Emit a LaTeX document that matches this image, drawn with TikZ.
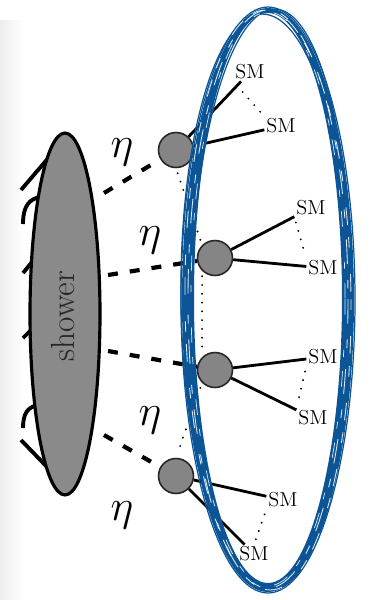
\documentclass[tikz,border=0pt]{standalone}
\usepackage{fontspec}
\usepackage{xcolor}
\usepackage{tikz}
\usetikzlibrary{shapes.geometric}
\definecolor{ShowerGray}{HTML}{8A8A8A}
\definecolor{BlobGray}{HTML}{858585}
\definecolor{ScribbleBlue}{HTML}{0B5596}

\begin{document}
\begin{tikzpicture}[x=0.02cm,y=-0.02cm,
  showerblob/.style={ellipse,draw=black,line width=1.8pt,fill=ShowerGray,minimum width=1.4cm,minimum height=7.24cm,inner sep=0pt},
  blob/.style={circle,draw=black!85,line width=0.9pt,fill=BlobGray,minimum size=0.7cm,inner sep=0pt},
  smlabel/.style={inner sep=1pt,font=\fontsize{11.5}{12}\selectfont},
  etalabel/.style={inner sep=0pt,font=\fontsize{24.88}{26}\selectfont},
  etaline/.style={line width=2.4pt,dash pattern=on 0.2cm off 0.24cm},
  smline/.style={line width=1.6pt},
  dotline/.style={line width=1.2pt,dash pattern=on 0pt off 5pt,line cap=round,shorten <=3pt,shorten >=3pt},
  stub/.style={line width=2.2pt},
  scribble/.style={draw=ScribbleBlue,line width=0.7pt},
  streak/.style={draw=white,line width=0.5pt,opacity=0.85}]
\path[use as bounding box] (0,0) rectangle (382,600);
\shade[left color=black!7,right color=white] (0,20) rectangle (24,600);
% incoming lines behind the shower
\draw[stub] (21,190) -- (50,156);
\draw[stub] (23,224) .. controls (23,205) and (30,199) .. (40,197);
\draw[stub] (23,273) -- (32,262);
\draw[stub] (23,338) -- (32,329);
\draw[stub] (23,428) .. controls (23,413) and (28,407) .. (38,405);
\draw[stub] (21,440) -- (50,470);
\node[showerblob] (shower) at (65,314) {};
\node[rotate=90,font=\fontsize{19}{20}\selectfont,text=black!85] (showerlabel) at (63,316) {shower};
% decays
\node[blob] (b1) at (176,150) {};
\node[blob] (b2) at (215,258) {};
\node[blob] (b3) at (215,370) {};
\node[blob] (b4) at (176,476) {};
\coordinate (e1) at (104,193);
\coordinate (e2) at (108,275);
\coordinate (e3) at (108,351);
\coordinate (e4) at (104,435);
\draw[etaline] (e1) -- (b1);
\draw[etaline] (e2) -- (b2);
\draw[etaline] (e3) -- (b3);
\draw[etaline] (e4) -- (b4);
\node[etalabel] (eta1) at (122,152) {$\eta$};
\node[etalabel] (eta2) at (150,240) {$\eta$};
\node[etalabel] (eta3) at (150,420) {$\eta$};
\node[etalabel] (eta4) at (122,515) {$\eta$};
\node[smlabel] (sm1a) at (250,72) {SM};
\node[smlabel] (sm1b) at (281,126) {SM};
\node[smlabel] (sm2a) at (311,208) {SM};
\node[smlabel] (sm2b) at (323,268) {SM};
\node[smlabel] (sm3a) at (323,357) {SM};
\node[smlabel] (sm3b) at (313,418) {SM};
\node[smlabel] (sm4a) at (283,500) {SM};
\node[smlabel] (sm4b) at (254,554) {SM};
\draw[smline] (b1) -- (sm1a);
\draw[smline] (b1) -- (sm1b);
\draw[smline] (b2) -- (sm2a);
\draw[smline] (b2) -- (sm2b);
\draw[smline] (b3) -- (sm3a);
\draw[smline] (b3) -- (sm3b);
\draw[smline] (b4) -- (sm4a);
\draw[smline] (b4) -- (sm4b);
\draw[dotline] (sm1a.south west) -- (sm1b.north west);
\draw[dotline] (sm2a.south west) -- (sm2b.north west);
\draw[dotline] (sm3a.south west) -- (sm3b.north west);
\draw[dotline] (sm4a.south west) -- (sm4b.north);
\draw[dotline] (b1.south) -- (b2.north west);
\draw[dotline] (b2.south west) -- (b3.north west);
\draw[dotline] (b3.south west) -- (b4.north);
% hand drawn ring
\fill[ScribbleBlue,even odd rule] (268,300) ellipse [x radius=86,y radius=292]
  (268,298) ellipse [x radius=74,y radius=285];
\draw[scribble] (268,300) ellipse [x radius=87,y radius=293];
\draw[scribble,rotate around={-1:(270,298)}] (270,298) ellipse [x radius=79,y radius=289];
\draw[scribble,rotate around={0.8:(266,302)}] (266,302) ellipse [x radius=85,y radius=288];
\draw[streak,dash pattern=on 14pt off 9pt on 5pt off 12pt] (268,299) ellipse [x radius=80,y radius=289];
\draw[streak,dash pattern=on 6pt off 15pt on 10pt off 7pt,rotate around={0.5:(268,300)}] (268,300) ellipse [x radius=83,y radius=290];
\draw[streak,line width=0.4pt,dash pattern=on 9pt off 20pt on 4pt off 8pt] (268,299) ellipse [x radius=77,y radius=287];
\end{tikzpicture}
\end{document}
